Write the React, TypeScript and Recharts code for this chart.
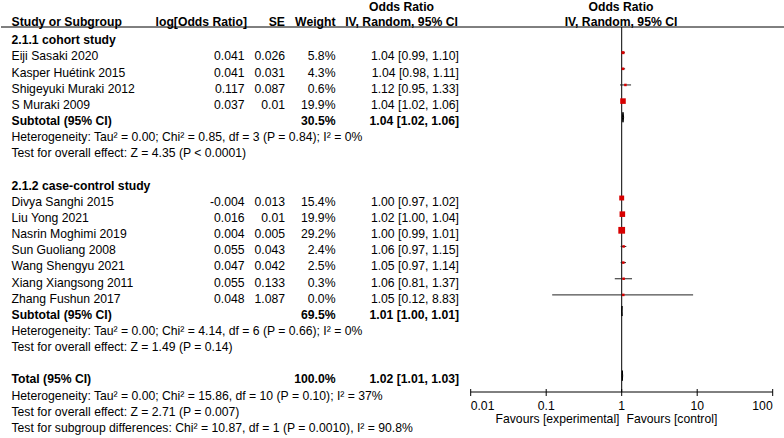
import React from 'react';
import { ScatterChart, Scatter, XAxis, YAxis, ErrorBar, ReferenceLine } from 'recharts';

const FONT = '"Liberation Sans", Arial, Helvetica, sans-serif';

// ---------- data ----------
const studyNames = [
  'Eiji Sasaki 2020',
  'Kasper Huétink 2015',
  'Shigeyuki Muraki 2012',
  'S Muraki 2009',
  'Divya Sanghi 2015',
  'Liu Yong 2021',
  'Nasrin Moghimi 2019',
  'Sun Guoliang 2008',
  'Wang Shengyu 2021',
  'Xiang Xiangsong 2011',
  'Zhang Fushun 2017',
];
const studyRows = [1, 2, 3, 4, 10, 11, 12, 13, 14, 15, 16];
const logOR = ['0.041', '0.041', '0.117', '0.037', '-0.004', '0.016', '0.004', '0.055', '0.047', '0.055', '0.048'];
const seValues = ['0.026', '0.031', '0.087', '0.01', '0.013', '0.01', '0.005', '0.043', '0.042', '0.133', '1.087'];
const weights = [5.8, 4.3, 0.6, 19.9, 15.4, 19.9, 29.2, 2.4, 2.5, 0.3, 0.0];
const oddsRatio = [1.04, 1.04, 1.12, 1.04, 1.0, 1.02, 1.0, 1.06, 1.05, 1.06, 1.05];
const ciLow = [0.99, 0.98, 0.95, 1.02, 0.97, 1.0, 0.99, 0.97, 0.97, 0.81, 0.12];
const ciHigh = [1.1, 1.11, 1.33, 1.06, 1.02, 1.04, 1.01, 1.15, 1.14, 1.37, 8.83];

const groupTitles = ['2.1.1 cohort study', '2.1.2 case-control study'];
const groupRows = [0, 9];

const pooledLabels = ['Subtotal (95% CI)', 'Subtotal (95% CI)', 'Total (95% CI)'];
const pooledRows = [5, 17, 21];
const pooledWeights = ['30.5%', '69.5%', '100.0%'];
const pooledOR = [1.04, 1.01, 1.02];
const pooledLow = [1.02, 1.0, 1.01];
const pooledHigh = [1.06, 1.01, 1.03];

const statLines = [
  'Heterogeneity: Tau² = 0.00; Chi² = 0.85, df = 3 (P = 0.84); I² = 0%',
  'Test for overall effect: Z = 4.35 (P < 0.0001)',
  'Heterogeneity: Tau² = 0.00; Chi² = 4.14, df = 6 (P = 0.66); I² = 0%',
  'Test for overall effect: Z = 1.49 (P = 0.14)',
  'Heterogeneity: Tau² = 0.00; Chi² = 15.86, df = 10 (P = 0.10); I² = 37%',
  'Test for overall effect: Z = 2.71 (P = 0.007)',
  'Test for subgroup differences: Chi² = 10.87, df = 1 (P = 0.0010), I² = 90.8%',
];
const statRows = [6, 7, 18, 19, 22, 23, 24];

const xTicks = [0.01, 0.1, 1, 10, 100];
const xTickLabels = ['0.01', '0.1', '1', '10', '100'];
const favourLeft = 'Favours [experimental]';
const favourRight = 'Favours [control]';

// ---------- layout (styles only) ----------
const W = 784;
const H = 438;
const FS = 12.2;
const ROW0 = 44.3; // baseline of row 0 text
const ROWH = 16.15;
const MARK0 = 36.5; // marker centre of row 0
const PLOT_TOP = 27;
const PLOT_BOTTOM = 392;
const X_LEFT = 11.5;
const COL_LOGOR = 244.5;
const COL_SE = 285;
const COL_W = 335.5;
const COL_CI = 459;
const COL_CI_HEAD = 401.5;
const PLOT_X0 = 470.7;
const PLOT_X1 = 772.7;
const RED = '#d80000';

const baseY = (r: number) => ROW0 + r * ROWH;
const fmt = (v: number) => v.toFixed(2);
const ciText = (o: number, l: number, h: number) => `${fmt(o)} [${fmt(l)}, ${fmt(h)}]`;

const studyPoints = studyNames.map((n, i) => ({
  name: n,
  x: oddsRatio[i],
  row: studyRows[i],
  w: weights[i],
  err: [oddsRatio[i] - ciLow[i], ciHigh[i] - oddsRatio[i]],
}));

const diamondHalf = 0.31;
const diamonds = pooledOR.map((o, i) => [
  { x: pooledLow[i], row: pooledRows[i] },
  { x: o, row: pooledRows[i] - diamondHalf },
  { x: pooledHigh[i], row: pooledRows[i] },
  { x: o, row: pooledRows[i] + diamondHalf },
  { x: pooledLow[i], row: pooledRows[i] },
]);

const yMin = (PLOT_TOP - MARK0) / ROWH;
const yMax = (PLOT_BOTTOM - MARK0) / ROWH;

const SquareShape = (props: any) => {
  const { cx, cy, payload } = props;
  if (cx == null || cy == null) return <g />;
  const s = Math.max(2.5, 1.25 * Math.sqrt(payload.w));
  return <rect x={cx - s / 2} y={cy - s / 2} width={s} height={s} fill={RED} />;
};

const XTick = (props: any) => {
  const { x, payload } = props;
  const idx = xTicks.indexOf(payload.value);
  const anchor = idx === 0 ? 'start' : idx === xTicks.length - 1 ? 'end' : 'middle';
  return (
    <g>
      <line x1={x} x2={x} y1={PLOT_BOTTOM - 3} y2={PLOT_BOTTOM + 4} stroke="#000" strokeWidth={1} />
      <text x={x} y={PLOT_BOTTOM + 17.5} textAnchor={anchor} fontFamily={FONT} fontSize={FS} fill="#000">
        {xTickLabels[idx]}
      </text>
    </g>
  );
};

const T = (p: any) => (
  <text fontFamily={FONT} fontSize={FS} fill="#000" {...p} />
);

export default function App() {
  return (
    <div style={{ position: 'absolute', left: 0, top: 0, width: W, height: H, background: '#fff' }}>
      <ScatterChart
        width={W}
        height={H}
        margin={{ top: PLOT_TOP, right: W - PLOT_X1, bottom: 0, left: PLOT_X0 }}
      >
        <XAxis
          type="number"
          dataKey="x"
          scale="log"
          domain={[0.01, 100]}
          allowDataOverflow
          ticks={xTicks}
          interval={0}
          height={H - PLOT_BOTTOM}
          axisLine={{ stroke: '#000', strokeWidth: 1 }}
          tickLine={false}
          tickSize={0}
          tick={<XTick />}
        />
        <YAxis type="number" dataKey="row" domain={[yMin, yMax]} reversed hide width={0} allowDataOverflow />
        <ReferenceLine x={1} stroke="#000" strokeWidth={1} />
        <Scatter data={studyPoints} shape={<SquareShape />} isAnimationActive={false}>
          <ErrorBar dataKey="err" direction="x" width={0} stroke="#222" strokeWidth={1} isAnimationActive={false} />
        </Scatter>
        {diamonds.map((d, i) => (
          <Scatter
            key={i}
            data={d}
            line={{ stroke: '#000', fill: '#000', strokeWidth: 1 }}
            shape={() => <g />}
            isAnimationActive={false}
          />
        ))}
      </ScatterChart>
      <svg
        width={W}
        height={H}
        style={{ position: 'absolute', left: 0, top: 0, pointerEvents: 'none' }}
      >
        {/* headers */}
        <T x={COL_CI_HEAD} y={10.5} textAnchor="middle" fontWeight="bold">Odds Ratio</T>
        <T x={621} y={10.5} textAnchor="middle" fontWeight="bold">Odds Ratio</T>
        <T x={X_LEFT} y={25.5} fontWeight="bold">Study or Subgroup</T>
        <T x={247} y={25.5} textAnchor="end" fontWeight="bold">log[Odds Ratio]</T>
        <T x={COL_SE} y={25.5} textAnchor="end" fontWeight="bold">SE</T>
        <T x={COL_W} y={25.5} textAnchor="end" fontWeight="bold">Weight</T>
        <T x={COL_CI_HEAD} y={25.5} textAnchor="middle" fontWeight="bold">IV, Random, 95% CI</T>
        <T x={621} y={25.5} textAnchor="middle" fontWeight="bold">IV, Random, 95% CI</T>
        <line x1={1} x2={W} y1={27} y2={27} stroke="#000" strokeWidth={1} />

        {groupTitles.map((g, i) => (
          <T key={'g' + i} x={X_LEFT} y={baseY(groupRows[i])} fontWeight="bold">{g}</T>
        ))}
        {studyNames.map((n, i) => (
          <g key={'s' + i}>
            <T x={X_LEFT} y={baseY(studyRows[i])}>{n}</T>
            <T x={COL_LOGOR} y={baseY(studyRows[i])} textAnchor="end">{logOR[i]}</T>
            <T x={COL_SE} y={baseY(studyRows[i])} textAnchor="end">{seValues[i]}</T>
            <T x={COL_W} y={baseY(studyRows[i])} textAnchor="end">{weights[i].toFixed(1)}%</T>
            <T x={COL_CI} y={baseY(studyRows[i])} textAnchor="end">{ciText(oddsRatio[i], ciLow[i], ciHigh[i])}</T>
          </g>
        ))}
        {pooledLabels.map((l, i) => (
          <g key={'p' + i}>
            <T x={X_LEFT} y={baseY(pooledRows[i])} fontWeight="bold">{l}</T>
            <T x={COL_W} y={baseY(pooledRows[i])} textAnchor="end" fontWeight="bold">{pooledWeights[i]}</T>
            <T x={COL_CI} y={baseY(pooledRows[i])} textAnchor="end" fontWeight="bold">
              {ciText(pooledOR[i], pooledLow[i], pooledHigh[i])}
            </T>
          </g>
        ))}
        {statLines.map((s, i) => (
          <T key={'t' + i} x={X_LEFT} y={baseY(statRows[i])}>{s}</T>
        ))}
        <T x={619.5} y={422.5} textAnchor="end">{favourLeft}</T>
        <T x={626.5} y={422.5}>{favourRight}</T>
      </svg>
    </div>
  );
}
